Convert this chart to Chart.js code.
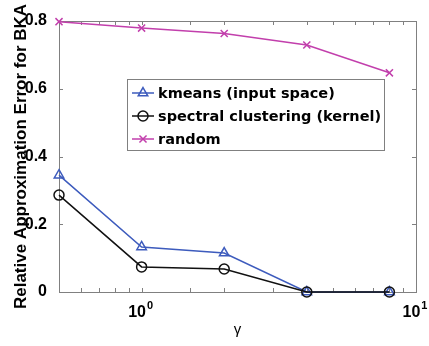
<!DOCTYPE html>
<html>
<head>
<meta charset="utf-8">
<script src="https://cdn.jsdelivr.net/npm/chart.js@4.4.1/dist/chart.umd.min.js"></script>
<style>
  body { margin: 0; background: #fff; }
  #wrap { width: 429px; height: 346px; }
</style>
</head>
<body>
<div id="wrap"><canvas id="can"></canvas></div>
<script>
// values
var gammas = [0.5, 1, 2, 4, 8];
var kmeansErr = [0.345, 0.133, 0.115, 0, 0];
var spectralErr = [0.286, 0.074, 0.068, 0, 0];
var randomErr = [0.798, 0.779, 0.763, 0.729, 0.647];
var seriesNames = ['kmeans (input space)', 'spectral clustering (kernel)', 'random'];
var yTicks = [0, 0.2, 0.4, 0.6, 0.8];
var xDecades = [1, 10];

var blue = '#3d5bbd';
var black = '#111111';
var pink = '#c23fac';
var tickFont = '"Liberation Sans", Arial';

function pts(ys) {
    var out = [];
    for (var i in gammas) {
        out.push({x: gammas[i], y: ys[i]});
    }
    return out;
}

// frame + inward ticks, like the matlab axes box
var boxPlugin = {
    id: 'box',
    beforeDatasetsDraw: function (chart) {
        var ctx = chart.ctx;
        var a = chart.chartArea;
        var xs = chart.scales.x, ys = chart.scales.y;
        ctx.save();
        ctx.strokeStyle = '#808080';
        ctx.lineWidth = 1;
        ctx.strokeRect(a.left + 0.5, a.top + 0.5, a.right - a.left, a.bottom - a.top);
        ctx.beginPath();
        xs.ticks.forEach(function (t) {
            var px = Math.round(xs.getPixelForValue(t.value)) + 0.5;
            if (px <= a.left + 1 || px >= a.right - 1) return;
            ctx.moveTo(px, a.bottom); ctx.lineTo(px, a.bottom - 4);
            ctx.moveTo(px, a.top); ctx.lineTo(px, a.top + 4);
        });
        yTicks.forEach(function (v) {
            var py = Math.round(ys.getPixelForValue(v)) + 0.5;
            ctx.moveTo(a.left, py); ctx.lineTo(a.left + 4, py);
            ctx.moveTo(a.right, py); ctx.lineTo(a.right - 4, py);
        });
        ctx.stroke();

        // 10^0, 10^1 labels with real superscripts
        ctx.fillStyle = '#000';
        ctx.textBaseline = 'alphabetic';
        xDecades.forEach(function (v) {
            var px = xs.getPixelForValue(v);
            var exp = String(Math.round(Math.log10(v)));
            ctx.font = 'bold 16px ' + tickFont;
            var wb = ctx.measureText('10').width;
            ctx.font = 'bold 11px ' + tickFont;
            var we = ctx.measureText(exp).width;
            var x0 = px - (wb + we + 1) / 2 - 1;
            ctx.font = 'bold 16px ' + tickFont;
            ctx.textAlign = 'left';
            ctx.fillText('10', x0, 317);
            ctx.font = 'bold 11px ' + tickFont;
            ctx.fillText(exp, x0 + wb + 1, 309);
        });
        ctx.restore();
    }
};

// legend box inside the plot
var legendPlugin = {
    id: 'boxLegend',
    afterDraw: function (chart) {
        var ctx = chart.ctx;
        var x0 = 127, y0 = 79, w = 257, h = 71;
        ctx.save();
        ctx.fillStyle = '#fff';
        ctx.fillRect(x0, y0, w, h);
        ctx.strokeStyle = '#808080';
        ctx.lineWidth = 1;
        ctx.strokeRect(x0 + 0.5, y0 + 0.5, w, h);
        var rows = [93, 116, 139];
        chart.data.datasets.forEach(function (ds, i) {
            var y = rows[i];
            ctx.strokeStyle = ds.borderColor;
            ctx.lineWidth = 1.5;
            ctx.beginPath();
            ctx.moveTo(132, y); ctx.lineTo(154, y);
            ctx.stroke();
            ctx.fillStyle = 'rgba(0,0,0,0)';
            Chart.helpers.drawPoint(ctx, {
                pointStyle: ds.pointStyle,
                radius: ds.pointRadius,
                borderWidth: 1.5,
                rotation: 0
            }, 143, y);
            ctx.fillStyle = '#000';
            ctx.font = 'bold 14.5px "DejaVu Sans"';
            ctx.textBaseline = 'middle';
            ctx.textAlign = 'left';
            ctx.fillText(ds.label, 158, y + 1);
        });
        ctx.restore();
    }
};

var chartdata = {
    datasets: [
        {
            label: seriesNames[0],
            data: pts(kmeansErr),
            borderColor: blue,
            backgroundColor: 'rgba(0,0,0,0)',
            pointBackgroundColor: 'rgba(0,0,0,0)',
            pointStyle: 'triangle',
            pointRadius: 5.5,
            borderWidth: 1.5,
            pointBorderWidth: 1.5,
            order: 2
        },
        {
            label: seriesNames[1],
            data: pts(spectralErr),
            borderColor: black,
            backgroundColor: 'rgba(0,0,0,0)',
            pointBackgroundColor: 'rgba(0,0,0,0)',
            pointStyle: 'circle',
            pointRadius: 5,
            borderWidth: 1.5,
            pointBorderWidth: 1.5,
            order: 1
        },
        {
            label: seriesNames[2],
            data: pts(randomErr),
            borderColor: pink,
            backgroundColor: 'rgba(0,0,0,0)',
            pointStyle: 'crossRot',
            pointRadius: 5,
            borderWidth: 1.5,
            pointBorderWidth: 1.5,
            order: 0
        }
    ]
};

var ctx = document.getElementById('can').getContext('2d');

window.myChart = new Chart(ctx, {
    type: 'scatter',
    data: chartdata,
    plugins: [boxPlugin, legendPlugin],
    options: {
        responsive: true,
        maintainAspectRatio: false,
        animation: false,
        showLine: true,
        clip: false,
        layout: {
            padding: {left: 0, right: 13, top: 21, bottom: 0}
        },
        plugins: {
            legend: {display: false},
            tooltip: {enabled: false}
        },
        scales: {
            x: {
                type: 'logarithmic',
                min: 0.5,
                max: 10,
                grid: {display: false},
                border: {display: false},
                ticks: {
                    autoSkip: false,
                    maxRotation: 0,
                    padding: 9,
                    font: {family: tickFont, size: 16, weight: 'bold'},
                    callback: function () { return ''; }
                },
                title: {
                    display: true,
                    text: '\u03b3',
                    color: '#000',
                    font: {family: tickFont, size: 15},
                    padding: {top: 0, bottom: 7}
                },
                afterFit: function (s) {
                    s.height = 54;
                    s.paddingLeft = 0;
                    s.paddingRight = 0;
                }
            },
            y: {
                min: 0,
                max: 0.8,
                grid: {display: false},
                border: {display: false},
                afterBuildTicks: function (s) {
                    s.ticks = yTicks.map(function (v) { return {value: v}; });
                },
                ticks: {
                    padding: 4,
                    color: '#000',
                    font: {family: tickFont, size: 16, weight: 'bold'},
                    callback: function (v) { return v === 0 ? '0' : v.toFixed(1); }
                },
                title: {
                    display: true,
                    text: 'Relative Approximation Error for BKA',
                    color: '#000',
                    font: {family: tickFont, size: 17, weight: 'bold'},
                    padding: {top: 11, bottom: 0}
                },
                afterFit: function (s) {
                    s.width = 59;
                    s.paddingTop = 0;
                    s.paddingBottom = 0;
                }
            }
        }
    }
});
</script>
</body>
</html>
